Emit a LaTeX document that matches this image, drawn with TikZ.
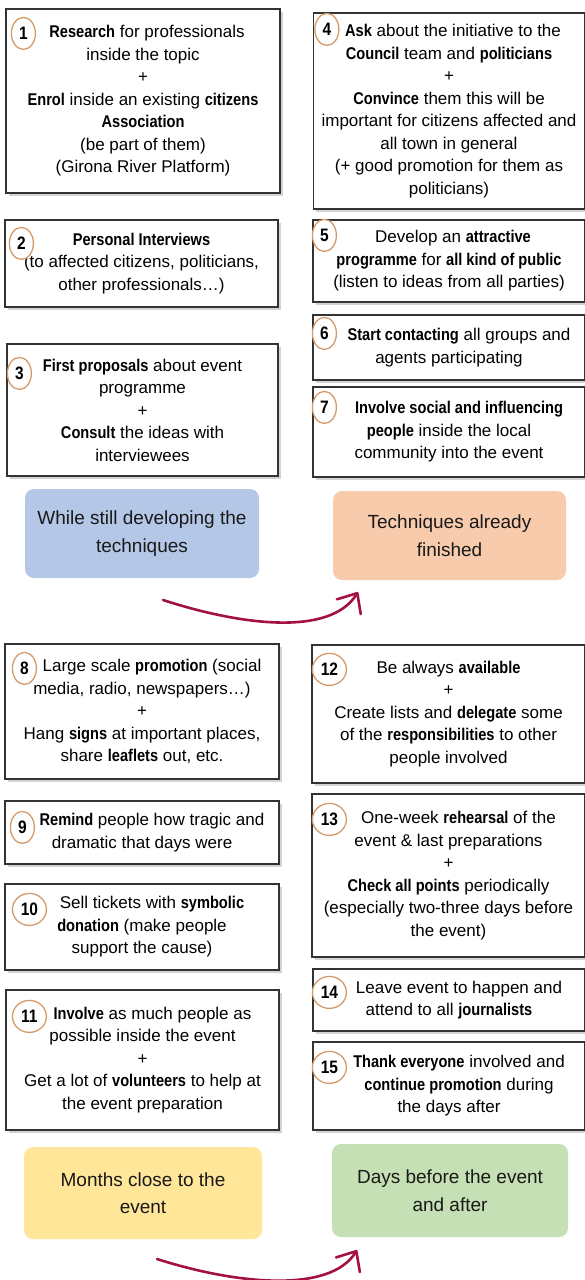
\documentclass[tikz,border=0pt]{standalone}
\usepackage{fontspec}
\setmainfont{Liberation Sans}[BoldFeatures={FakeStretch=0.86}]
\usetikzlibrary{shapes.geometric,shadows,arrows.meta}

\definecolor{badgeorange}{HTML}{D39B6B}
\definecolor{phaseblue}{HTML}{B4C7E7}
\definecolor{phaseorange}{HTML}{F8CBAD}
\definecolor{phaseyellow}{HTML}{FFE699}
\definecolor{phasegreen}{HTML}{C5E0B4}
\definecolor{arrowred}{HTML}{A3123E}

\newcommand*{\leftx}{142.5}
\newcommand*{\rightx}{449}
\newcommand*{\firstgap}{\hspace*{20pt}}
\newcommand*{\smallgap}{\hspace*{8pt}}

\begin{document}
\begin{tikzpicture}
[
	x=1pt, y=-1pt,
	stepbox/.style={draw=black!80,line width=1.2pt,fill=white,align=center,inner sep=2pt,
		font=\fontsize{17}{22.5}\selectfont,
		drop shadow={shadow xshift=2.5pt,shadow yshift=-2.5pt,opacity=0.35}},
	badge/.style={ellipse,draw=badgeorange,line width=1.3pt,fill=white,inner sep=0pt,
		minimum height=32pt,font=\bfseries\fontsize{18}{18}\selectfont},
	phase/.style={rounded corners=9pt,align=center,text=black!90,font=\fontsize{19}{27.5}\selectfont},
	timeline/.style={arrowred,line width=2.6pt,line cap=round,-{Straight Barb[length=16pt,width=28pt,round]}}
]

	\useasboundingbox (0,0) rectangle (585,1280);

	% first half: left column
	\node[stepbox,minimum width=274pt,minimum height=184pt] (s1) at (143,101)
		{\smallgap\textbf{Research} for professionals\\inside the topic\\+\\\textbf{Enrol} inside an existing \textbf{citizens}\\\textbf{Association}\\(be part of them)\\(Girona River Platform)};
	\node[stepbox,minimum width=273pt,minimum height=87pt] (s2) at (141.5,263.5)
		{\textbf{Personal Interviews}\\(to affected citizens, politicians,\\other professionals…)};
	\node[stepbox,minimum width=271pt,minimum height=132pt] (s3) at (\leftx,410)
		{\textbf{First proposals} about event\\programme\\+\\\textbf{Consult} the ideas with\\interviewees};

	% first half: right column
	\node[stepbox,minimum width=271pt,minimum height=196pt] (s4) at (\rightx,111)
		{\smallgap\textbf{Ask} about the initiative to the\\\textbf{Council} team and \textbf{politicians}\\+\\\textbf{Convince} them this will be\\important for citizens affected and\\all town in general\\(+ good promotion for them as\\politicians)};
	\node[stepbox,minimum width=272pt,minimum height=82pt] (s5) at (\rightx,261)
		{\smallgap Develop an \textbf{attractive}\\\textbf{programme} for \textbf{all kind of public}\\(listen to ideas from all parties)};
	\node[stepbox,minimum width=272pt,minimum height=65pt] (s6) at (\rightx,347.5)
		{\firstgap\textbf{Start contacting} all groups and\\agents participating};
	\node[stepbox,minimum width=272pt,minimum height=90pt] (s7) at (\rightx,432)
		{\firstgap\textbf{Involve social and influencing}\\\textbf{people} inside the local\\community into the event};

	% phases of the first half
	\node[phase,fill=phaseblue,minimum width=234pt,minimum height=89pt] (p1) at (142,533.5)
		{While still developing the\\techniques};
	\node[phase,fill=phaseorange,minimum width=233pt,minimum height=89pt] (p2) at (449.5,535.5)
		{Techniques already\\finished};

	\coordinate (a1s) at (163,600);
	\coordinate (a1e) at (358,592);
	\draw[timeline] (a1s) .. controls (240,625) and (330,637) .. (a1e);

	% second half: left column
	\node[stepbox,minimum width=274pt,minimum height=135pt] (s8) at (142,711.5)
		{\firstgap Large scale \textbf{promotion} (social\\media, radio, newspapers…)\\+\\Hang \textbf{signs} at important places,\\share \textbf{leaflets} out, etc.};
	\node[stepbox,minimum width=274pt,minimum height=63pt] (s9) at (142,832.5)
		{\firstgap\textbf{Remind} people how tragic and\\dramatic that days were};
	\node[stepbox,minimum width=274pt,minimum height=86pt] (s10) at (142,927)
		{\firstgap Sell tickets with \textbf{symbolic}\\\textbf{donation} (make people\\support the cause)};
	\node[stepbox,minimum width=273pt,minimum height=140pt] (s11) at (\leftx,1060)
		{\firstgap\textbf{Involve} as much people as\\possible inside the event\\+\\Get a lot of \textbf{volunteers} to help at\\the event preparation};

	% second half: right column
	\node[stepbox,minimum width=273pt,minimum height=138pt] (s12) at (448.5,714)
		{Be always \textbf{available}\\+\\Create lists and \textbf{delegate} some\\of the \textbf{responsibilities} to other\\people involved};
	\node[stepbox,minimum width=273pt,minimum height=163pt] (s13) at (448.5,875.5)
		{\firstgap One-week \textbf{rehearsal} of the\\event \& last preparations\\+\\\textbf{Check all points} periodically\\(especially two-three days before\\the event)};
	\node[stepbox,minimum width=272pt,minimum height=62pt] (s14) at (\rightx,1000)
		{\firstgap Leave event to happen and\\attend to all \textbf{journalists}};
	\node[stepbox,minimum width=272pt,minimum height=88pt] (s15) at (\rightx,1086)
		{\firstgap\textbf{Thank everyone} involved and\\\firstgap\textbf{continue promotion} during\\the days after};

	% phases of the second half
	\node[phase,fill=phaseyellow,minimum width=238pt,minimum height=92pt] (p3) at (143,1193)
		{Months close to the\\event};
	\node[phase,fill=phasegreen,minimum width=236pt,minimum height=93pt] (p4) at (450,1190.5)
		{Days before the event\\and after};

	\coordinate (a2s) at (157,1259);
	\coordinate (a2e) at (357,1250);
	\draw[timeline] (a2s) .. controls (235,1284) and (330,1294) .. (a2e);

	% numbered badges
	\foreach \n/\dx/\dy/\w in {1/18/25/24, 2/17/24/24, 3/13/30/24, 4/14/17/24, 5/12/16/24,
		6/12/19/24, 7/12/21/24, 8/20/25/24, 9/18/27/24, 10/25/26/34, 11/24/27/34,
		12/18/25/34, 13/18/26/34, 14/17/24/34, 15/17/26/34}
		\node[badge,minimum width=\w pt] (b\n) at ([shift={(\dx,\dy)}]s\n.north west) {\n};

\end{tikzpicture}
\end{document}
